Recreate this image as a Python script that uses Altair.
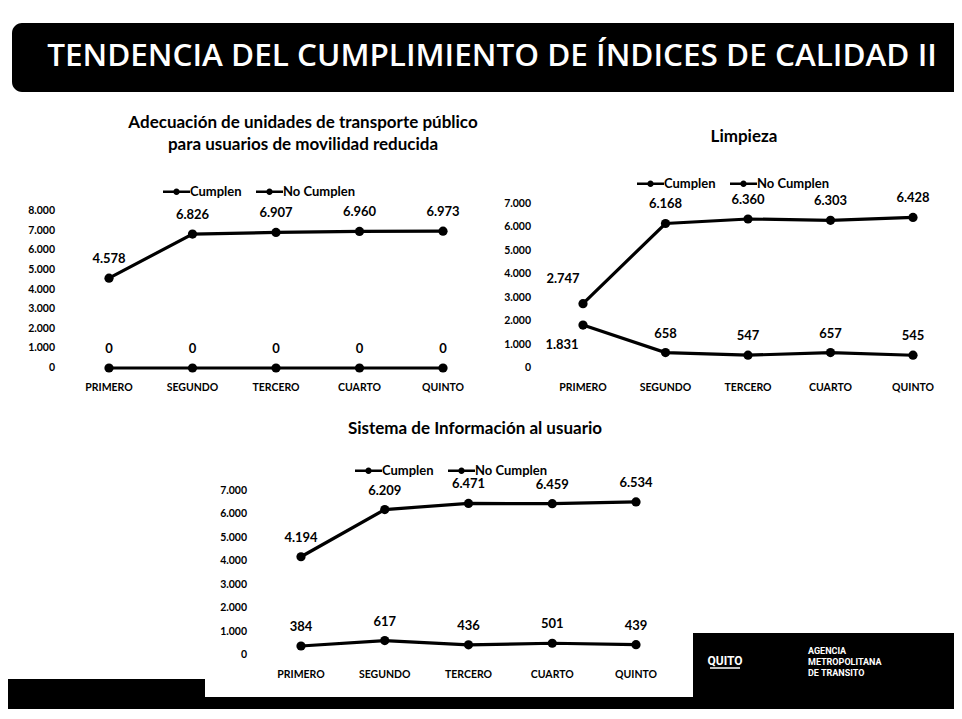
import altair as alt
import pandas as pd

# ---------------- data ----------------
periodos = ["PRIMERO", "SEGUNDO", "TERCERO", "CUARTO", "QUINTO"]
series = ["Cumplen", "No Cumplen"]

adec_cumplen = [4578, 6826, 6907, 6960, 6973]
adec_no_cumplen = [0, 0, 0, 0, 0]
limp_cumplen = [2747, 6168, 6360, 6303, 6428]
limp_no_cumplen = [1831, 658, 547, 657, 545]
info_cumplen = [4194, 6209, 6471, 6459, 6534]
info_no_cumplen = [384, 617, 436, 501, 439]

ticks_8 = [0, 1000, 2000, 3000, 4000, 5000, 6000, 7000, 8000]
ticks_7 = [0, 1000, 2000, 3000, 4000, 5000, 6000, 7000]

titulo = "TENDENCIA DEL CUMPLIMIENTO DE ÍNDICES DE CALIDAD II"
titulo_adec = ["Adecuación de unidades de transporte público",
               "para usuarios de movilidad reducida"]
titulo_limp = "Limpieza"
titulo_info = "Sistema de Información al usuario"
logo_quito = "QUITO"
logo_amt = ["AGENCIA", "METROPOLITANA", "DE TRANSITO"]

FONT = "Lato"
NARROW = "Liberation Sans Narrow, Roboto"
SYM = ("M-1,-0.085H1V0.085H-1Z "
       "M-0.24,0A0.24,0.24 0 1,1 0.24,0A0.24,0.24 0 1,1 -0.24,0Z")


def fmt(v):
    return f"{v:,}".replace(",", ".")


def panel(cumplen, no_cumplen, ticks, xr, yr, legend_xy, tick_dx, special=False):
    df = pd.DataFrame({
        "periodo": periodos * 2,
        "serie": [series[0]] * 5 + [series[1]] * 5,
        "valor": cumplen + no_cumplen,
    })
    df["etiqueta"] = df["valor"].map(fmt)
    xs = alt.Scale(type="point", domain=periodos, range=xr, padding=0)
    ys = alt.Scale(domain=[0, ticks[-1]], range=yr, nice=False, zero=True)
    X = alt.X("periodo:N", scale=xs, axis=None)
    Y = alt.Y("valor:Q", scale=ys, axis=None)
    base = alt.Chart(df)
    line = base.mark_line(color="black", strokeWidth=3.2).encode(
        x=X, y=Y, detail="serie:N")
    pts = base.mark_point(filled=True, size=85, opacity=1).encode(
        x=X, y=Y,
        color=alt.Color("serie:N",
                        scale=alt.Scale(domain=series, range=["black", "black"]),
                        legend=alt.Legend(
                            title=None, orient="none",
                            legendX=legend_xy[0], legendY=legend_xy[1],
                            direction="horizontal", columns=2,
                            symbolType=SYM, symbolSize=729,
                            symbolFillColor="black", symbolStrokeWidth=0,
                            symbolOpacity=1,
                            labelFont=FONT, labelFontSize=13,
                            labelFontWeight="bold", labelColor="black",
                            labelOffset=0, columnPadding=14, padding=0)))
    lab_style = dict(font=FONT, fontSize=13, fontWeight="bold", color="black",
                     baseline="middle")
    layers = [line, pts]
    if special:
        main = base.transform_filter(alt.datum.periodo != periodos[0])
        first_c = base.transform_filter(
            (alt.datum.periodo == periodos[0]) & (alt.datum.serie == series[0]))
        first_n = base.transform_filter(
            (alt.datum.periodo == periodos[0]) & (alt.datum.serie == series[1]))
        layers += [
            main.mark_text(dy=-19, **lab_style).encode(x=X, y=Y, text="etiqueta:N"),
            first_c.mark_text(dx=-20, dy=-25, **lab_style).encode(x=X, y=Y, text="etiqueta:N"),
            first_n.mark_text(dx=-21, dy=20, **lab_style).encode(x=X, y=Y, text="etiqueta:N"),
        ]
    else:
        layers.append(base.mark_text(dy=-19, **lab_style).encode(
            x=X, y=Y, text="etiqueta:N"))
    # y tick labels
    tdf = pd.DataFrame({"valor": ticks})
    tdf["etiqueta"] = tdf["valor"].map(fmt)
    tdf["periodo"] = periodos[0]
    layers.append(alt.Chart(tdf).mark_text(
        align="right", baseline="middle", dx=tick_dx, font=FONT, fontSize=10.5,
        fontWeight="bold", color="black").encode(x=X, y=Y, text="etiqueta:N"))
    # x category labels
    cdf = pd.DataFrame({"periodo": periodos, "valor": [0] * 5})
    layers.append(alt.Chart(cdf).mark_text(
        align="center", baseline="middle", dy=20, font=FONT, fontSize=10.5,
        fontWeight="bold", color="black").encode(x=X, y=Y, text="periodo:N"))
    return alt.layer(*layers)


def texto(txt, x, y, size, weight="bold", color="black", align="center", font=FONT):
    return alt.Chart(pd.DataFrame({"t": [txt]})).mark_text(
        align=align, baseline="middle", font=font, fontSize=size,
        fontWeight=weight, color=color).encode(
        x=alt.value(x), y=alt.value(y), text="t:N")


def caja(x, x2, y, y2, color="black", r=0):
    return alt.Chart(pd.DataFrame({"a": [0]})).mark_rect(
        color=color, cornerRadius=r).encode(
        x=alt.value(x), x2=alt.value(x2), y=alt.value(y), y2=alt.value(y2))


def linea(x, x2, y, color="white", w=1.5):
    return alt.Chart(pd.DataFrame({"a": [0]})).mark_rule(
        color=color, strokeWidth=w).encode(
        x=alt.value(x), x2=alt.value(x2), y=alt.value(y))


deco = [
    caja(4, 962, 15, 84, r=10),
    texto(titulo, 484, 49, 31.5, weight=600, color="white", font="Open Sans"),
    texto(titulo_adec[0], 295, 115, 17),
    texto(titulo_adec[1], 295, 137, 17),
    texto(titulo_limp, 736, 129, 17),
    texto(titulo_info, 467, 421, 17),
    caja(0, 197, 671, 690),
    caja(0, 962, 689, 701),
    caja(685, 962, 625, 701),
    texto(logo_quito, 717, 653, 12, color="white", font=NARROW),
    linea(702, 732, 660),
    texto(logo_amt[0], 800, 643, 9, color="white", align="left", font=NARROW),
    texto(logo_amt[1], 800, 654, 9, color="white", align="left", font=NARROW),
    texto(logo_amt[2], 800, 665, 9, color="white", align="left", font=NARROW),
]

p1 = panel(adec_cumplen, adec_no_cumplen, ticks_8, [101, 435], [360, 203],
           (155, 170), -54)
p2 = panel(limp_cumplen, limp_no_cumplen, ticks_7, [575, 905], [360, 196],
           (629, 162), -52, special=True)
p3 = panel(info_cumplen, info_no_cumplen, ticks_7, [293, 628], [647, 483],
           (347, 449), -54)

chart = alt.layer(*deco, p1, p2, p3).resolve_scale(
    x="independent", y="independent", color="independent"
).resolve_legend(color="independent").properties(
    width=946, height=703, padding=0,
    autosize=alt.AutoSizeParams(type="none"),
).configure_view(stroke=None)

chart.save("out.html", embed_options={"renderer": "svg", "actions": False})
